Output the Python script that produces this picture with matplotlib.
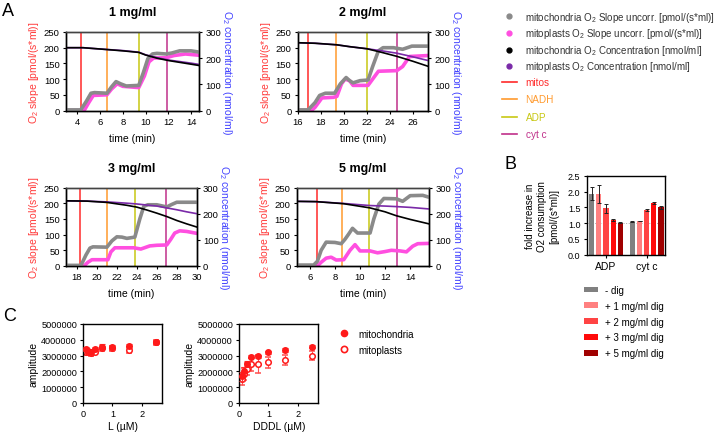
import numpy as np
import matplotlib
matplotlib.use('Agg')
import matplotlib.pyplot as plt
import matplotlib.ticker as mtick
from matplotlib.lines import Line2D
from matplotlib.patches import Patch

plt.rcParams['font.family'] = ['Liberation Sans', 'DejaVu Sans']
plt.rcParams['mathtext.fontset'] = 'custom'
plt.rcParams['mathtext.rm'] = 'Liberation Sans'
plt.rcParams['mathtext.it'] = 'Liberation Sans:italic'
plt.rcParams['font.size'] = 7
plt.rcParams['axes.linewidth'] = 1.0
plt.rcParams['xtick.major.size'] = 2.5
plt.rcParams['ytick.major.size'] = 2.5
plt.rcParams['xtick.major.pad'] = 2
plt.rcParams['ytick.major.pad'] = 2

# ---------------- A: O2 traces -----------------
# 1 mg/ml
a1_t_mito = [3, 4.3, 4.8, 5.2, 5.5, 6.6, 7.0, 7.4, 7.8, 8.3, 9.4, 9.8, 10.2, 10.6, 11.0, 11.8, 12.3, 13.0, 14.0, 14.7]
a1_mito_slope = [2, 2, 30, 55, 57, 55, 75, 92, 85, 78, 80, 120, 165, 180, 182, 180, 183, 190, 190, 186]
a1_t_mp = [3, 4.6, 5.0, 5.4, 6.6, 7.0, 7.5, 8.0, 9.4, 9.9, 10.3, 10.7, 11.8, 12.5, 13.5, 14.7]
a1_mp_slope = [0, 0, 25, 48, 50, 68, 85, 77, 73, 110, 155, 167, 168, 175, 180, 176]
a1_t_conc = [3, 4.5, 6, 8, 9.4, 10, 11, 12, 13, 14, 14.7]
a1_mito_conc = [240, 240, 235, 228, 222, 212, 200, 191, 184, 177, 172]
a1_mp_conc = [240, 240, 235, 229, 223, 213, 202, 193, 187, 181, 176]
a1_inject = [4.3, 6.65, 9.4, 11.85]

# 2 mg/ml
a2_t_mito = [16, 16.9, 17.5, 17.9, 18.4, 19.2, 19.7, 20.2, 20.5, 20.8, 21.4, 22.1, 22.5, 23.0, 23.4, 24.3, 25.1, 25.9, 27.3]
a2_mito_slope = [2, 2, 25, 48, 55, 55, 85, 105, 95, 88, 95, 97, 140, 190, 200, 200, 195, 205, 205]
a2_t_mp = [16, 17.2, 17.5, 18.1, 19.1, 19.4, 19.8, 20.1, 20.5, 20.8, 22.1, 22.5, 23.0, 24.6, 25.1, 25.7, 27.3]
a2_mp_slope = [0, 0, 10, 40, 42, 45, 85, 100, 95, 80, 80, 100, 125, 127, 140, 172, 175]
a2_t_conc = [16, 17.5, 19.4, 20.5, 22.0, 23.3, 24.6, 26.0, 27.3]
a2_mito_conc = [259, 257, 251, 244, 236, 222, 207, 188, 169]
a2_mp_conc = [259, 257, 251, 244, 236, 228, 219, 205, 191]
a2_inject = [16.9, 19.3, 22.0, 24.6]

# 3 mg/ml
a3_t_mito = [17, 18.4, 18.9, 19.3, 19.6, 21.0, 21.5, 22.0, 22.5, 23.0, 23.8, 24.3, 24.7, 25.1, 26.0, 27.0, 27.5, 28.0, 30.0]
a3_mito_slope = [2, 2, 35, 57, 61, 60, 80, 93, 92, 88, 92, 150, 190, 195, 195, 188, 196, 203, 203]
a3_t_mp = [17, 18.7, 19.1, 19.5, 21.1, 21.4, 21.8, 23.7, 24.4, 25.3, 26.0, 27.0, 27.4, 27.8, 28.3, 29.0, 30.0]
a3_mp_slope = [0, 0, 12, 20, 20, 45, 58, 58, 54, 64, 66, 67, 85, 105, 112, 110, 104]
a3_t_conc = [17, 19, 21, 23, 24, 25, 26, 27, 28, 29, 30]
a3_mito_conc = [249, 248, 243, 232, 225, 214, 202, 189, 174, 161, 149]
a3_mp_conc = [249, 248, 245, 240, 237, 233, 229, 222, 215, 207, 200]
a3_inject = [18.35, 21.0, 23.8, 26.9]

# 5 mg/ml
a4_t_mito = [5, 6.3, 6.6, 6.9, 7.3, 8.0, 8.5, 8.8, 9.1, 9.4, 9.8, 10.8, 11.1, 11.5, 11.9, 12.9, 13.4, 14.0, 15.0, 15.5]
a4_mito_slope = [3, 3, 15, 50, 76, 75, 71, 85, 102, 120, 105, 105, 150, 197, 215, 214, 206, 224, 225, 219]
a4_t_mp = [5, 6.6, 6.9, 7.3, 7.7, 8.1, 8.7, 9.2, 9.6, 10.0, 10.8, 11.4, 12.0, 12.5, 13.2, 13.7, 14.2, 14.6, 15.5]
a4_mp_slope = [0, 0, 12, 25, 28, 19, 20, 50, 68, 48, 48, 42, 46, 50, 48, 45, 63, 71, 72]
a4_t_conc = [5, 6.5, 8.7, 10.8, 12.0, 12.9, 14.0, 15.5]
a4_mito_conc = [247, 246, 238, 222, 207, 192, 178, 161]
a4_mp_conc = [247, 246, 239, 231, 229, 227, 224, 218]
a4_inject = [6.53, 8.6, 10.75, 12.95]

titles = ['1 mg/ml', '2 mg/ml', '3 mg/ml', '5 mg/ml']
inject_names = ['mitos', 'NADH', 'ADP', 'cyt c']

# ---------------- B: fold increase -----------------
b_groups = ['ADP', 'cyt c']
b_series = ['- dig', '+ 1 mg/ml dig', '+ 2 mg/ml dig', '+ 3 mg/ml dig', '+ 5 mg/ml dig']
b_adp = [1.93, 1.92, 1.47, 1.10, 1.01]
b_adp_err = [0.20, 0.28, 0.15, 0.04, 0.02]
b_cytc = [1.05, 1.07, 1.42, 1.63, 1.50]
b_cytc_err = [0.02, 0.01, 0.03, 0.03, 0.05]

# ---------------- C: amplitude -----------------
c_conc = [0.08, 0.16, 0.25, 0.4, 0.63, 1.0, 1.56, 2.5]
c_l_mito = [3.42e6, 3.31e6, 3.25e6, 3.42e6, 3.57e6, 3.52e6, 3.63e6, 3.88e6]
c_l_mito_err = [0.15e6, 0.12e6, 0.12e6, 0.10e6, 0.18e6, 0.18e6, 0.12e6, 0.12e6]
c_l_mp = [3.25e6, 3.20e6, 3.14e6, 3.25e6, 3.46e6, 3.46e6, 3.35e6, 3.84e6]
c_l_mp_err = [0.20e6, 0.15e6, 0.15e6, 0.15e6, 0.15e6, 0.15e6, 0.20e6, 0.15e6]
c_d_mito = [1.69e6, 2.05e6, 2.50e6, 2.93e6, 2.95e6, 3.20e6, 3.35e6, 3.57e6]
c_d_mito_err = [0.30e6, 0.25e6, 0.15e6, 0.10e6, 0.10e6, 0.10e6, 0.10e6, 0.12e6]
c_d_mp = [1.52e6, 1.84e6, 2.15e6, 2.45e6, 2.47e6, 2.57e6, 2.72e6, 3.00e6]
c_d_mp_err = [0.35e6, 0.40e6, 0.40e6, 0.40e6, 0.55e6, 0.35e6, 0.30e6, 0.30e6]

# colors
col_gray = '#8a8a8a'
col_mag = '#ff4fe0'
col_purple = '#7a2aa8'
inj_cols = ['#ff2a2a', '#ff9a2e', '#c8c814', '#c0308a']
bar_cols = ['#808080', '#ff8080', '#ff4444', '#ff0a0a', '#a00000']
red_label = '#ff3b3b'
blue_label = '#4040ff'

W, H = 721, 439
fig = plt.figure(figsize=(W / 100, H / 100), dpi=100)


def rect(x0, y0, x1, y1):
    return [x0 / W, 1 - y1 / H, (x1 - x0) / W, (y1 - y0) / H]


panels = [
    (rect(66, 33, 199, 111.5), (3, 14.7), range(4, 15, 2),
     a1_t_mito, a1_mito_slope, a1_t_mp, a1_mp_slope, a1_t_conc, a1_mito_conc, a1_mp_conc, a1_inject),
    (rect(297.7, 33, 428, 111.5), (16, 27.3), range(16, 27, 2),
     a2_t_mito, a2_mito_slope, a2_t_mp, a2_mp_slope, a2_t_conc, a2_mito_conc, a2_mp_conc, a2_inject),
    (rect(66, 188.5, 196.7, 267), (16.9, 30), range(18, 31, 2),
     a3_t_mito, a3_mito_slope, a3_t_mp, a3_mp_slope, a3_t_conc, a3_mito_conc, a3_mp_conc, a3_inject),
    (rect(296.7, 188.5, 429, 267), (4.95, 15.5), range(6, 15, 2),
     a4_t_mito, a4_mito_slope, a4_t_mp, a4_mp_slope, a4_t_conc, a4_mito_conc, a4_mp_conc, a4_inject),
]

for i, p in enumerate(panels):
    pos, xl, xt, tm, ym, tp, yp, tc, cm, cp, inj = p
    ax = fig.add_axes(pos)
    for x, c in zip(inj, inj_cols):
        ax.axvline(x, color=c, lw=1.1, zorder=1)
    ax.plot(tm, ym, color=col_gray, lw=2.6, solid_capstyle='round', zorder=3)
    ax.plot(tp, yp, color=col_mag, lw=2.6, solid_capstyle='round', zorder=2)
    ax.set_xlim(*xl)
    ax.set_ylim(0, 250)
    ax.set_xticks(list(xt))
    ax.set_yticks([0, 50, 100, 150, 200, 250])
    ax.tick_params(labelsize=6.8)
    ax.set_xlabel('time (min)', fontsize=7.5, labelpad=5)
    ax.set_ylabel('O$_2$ slope [pmol/(s*ml)]', color=red_label, fontsize=7.5, labelpad=2)
    ax.set_title(titles[i], fontsize=9, fontweight='bold', pad=12)
    ax.spines['top'].set_color('#444444')
    ax2 = ax.twinx()
    ax2.plot(tc, cm, color='black', lw=1.2)
    ax2.plot(tc, cp, color=col_purple, lw=1.2, zorder=1)
    ax2.set_ylim(0, 300)
    ax2.set_yticks([0, 100, 200, 300])
    ax2.tick_params(labelsize=6.8)
    ax2.set_ylabel('O$_2$ concentration (nmol/ml)', color=blue_label, fontsize=7.5,
                   rotation=270, labelpad=9)
    ax2.spines['top'].set_color('#444444')

# legends for A
dot_handles = [Line2D([], [], ls='', marker='o', ms=3.5, color=c)
               for c in [col_gray, col_mag, 'black', col_purple]]
dot_labels = ['mitochondria O$_2$ Slope uncorr. [pmol/(s*ml)]',
              'mitoplasts O$_2$ Slope uncorr. [pmol/(s*ml)]',
              'mitochondria O$_2$ Concentration [nmol/ml]',
              'mitoplasts O$_2$ Concentration [nmol/ml]']
leg1 = fig.legend(dot_handles, dot_labels, loc='upper left', bbox_to_anchor=(497 / W, 1 - 6 / H),
                  frameon=False, fontsize=7.0, handlelength=1.5, handletextpad=0.85,
                  labelspacing=0.26, borderpad=0, labelcolor='#333333')
line_handles = [Line2D([], [], color=c, lw=1.2) for c in inj_cols]
leg2 = fig.legend(line_handles, inject_names, loc='upper left', bbox_to_anchor=(497 / W, 1 - 73 / H),
                  frameon=False, fontsize=7.2, handlelength=1.45, handletextpad=0.9,
                  labelspacing=0.75, borderpad=0, labelcolor=inj_cols)

# ---------------- B -----------------
axb = fig.add_axes(rect(586.7, 176.7, 665, 255.7))
group_start = [0, 5.7]
for j, (name, c) in enumerate(zip(b_series, bar_cols)):
    xs = [g + j for g in group_start]
    vals = [b_adp[j], b_cytc[j]]
    errs = [b_adp_err[j], b_cytc_err[j]]
    axb.bar(xs, vals, width=0.72, color=c, label=name, zorder=2)
    axb.errorbar(xs, vals, yerr=errs, fmt='none', ecolor='#222222', elinewidth=0.7,
                 capsize=1.3, capthick=0.7, zorder=3)
axb.axhline(1.0, color='#aaaaaa', lw=0.7, ls=':', zorder=1)
axb.set_xlim(-0.7, 10.25)
axb.set_ylim(0, 2.5)
axb.set_yticks([0, 0.5, 1.0, 1.5, 2.0, 2.5])
axb.yaxis.set_major_formatter(mtick.StrMethodFormatter('{x:.1f}'))
axb.set_xticks([g + 2 for g in group_start])
axb.set_xticklabels(b_groups, fontsize=7.5)
axb.tick_params(axis='y', labelsize=6.5)
axb.set_ylabel('fold increase in\nO2 consumption\n[pmol/(s*ml)]', fontsize=7, labelpad=6,
               linespacing=1.3)
hb, lb = axb.get_legend_handles_labels()
fig.legend(hb, lb, loc='upper left', bbox_to_anchor=(579 / W, 1 - 281 / H), frameon=False,
           fontsize=7, handlelength=1.5, handleheight=0.5, handletextpad=0.7,
           labelspacing=0.6, borderpad=0)

# ---------------- C -----------------
c_axes = [
    (rect(83.3, 325, 162.3, 404), 'L (µM)', c_l_mito, c_l_mito_err, c_l_mp, c_l_mp_err),
    (rect(239.3, 325, 318.3, 404), 'DDDL (µM)', c_d_mito, c_d_mito_err, c_d_mp, c_d_mp_err),
]
for pos, xlab, ym, em, yp, ep in c_axes:
    axc = fig.add_axes(pos)
    axc.errorbar(c_conc, yp, yerr=ep, fmt='o', ms=4, mfc='white', mec='#ff1a1a', mew=1.1,
                 ecolor='#ff5050', elinewidth=0.8, capsize=2, capthick=0.8, label='mitoplasts', zorder=2)
    axc.errorbar(c_conc, ym, yerr=em, fmt='o', ms=4, color='#ff1a1a', mec='#ff1a1a',
                 ecolor='#ff3030', elinewidth=0.8, capsize=2, capthick=0.8, label='mitochondria', zorder=3)
    axc.set_xlim(0, 2.71)
    axc.set_ylim(0, 5000000)
    axc.set_xticks([0, 1, 2])
    axc.set_yticks([0, 1000000, 2000000, 3000000, 4000000, 5000000])
    axc.yaxis.set_major_formatter(mtick.StrMethodFormatter('{x:.0f}'))
    axc.tick_params(labelsize=6.6)
    axc.set_xlabel(xlab, fontsize=7.5, labelpad=2)
    axc.set_ylabel('amplitude', fontsize=7.5, labelpad=2)

c_handles = [Line2D([], [], ls='', marker='o', ms=4.5, color='#ff1a1a'),
             Line2D([], [], ls='', marker='o', ms=4.5, mfc='white', mec='#ff1a1a', mew=1.2)]
fig.legend(c_handles, ['mitochondria', 'mitoplasts'], loc='upper left',
           bbox_to_anchor=(333 / W, 1 - 325 / H), frameon=False, fontsize=7,
           handlelength=1.2, handletextpad=0.9, labelspacing=0.6, borderpad=0)

# panel letters
fig.text(2 / W, 1 - 12 / H, 'A', fontsize=13, va='center', ha='left')
fig.text(505 / W, 1 - 165 / H, 'B', fontsize=13, va='center', ha='left')
fig.text(3 / W, 1 - 317 / H, 'C', fontsize=13, va='center', ha='left')

fig.savefig('out.png', dpi=100)
